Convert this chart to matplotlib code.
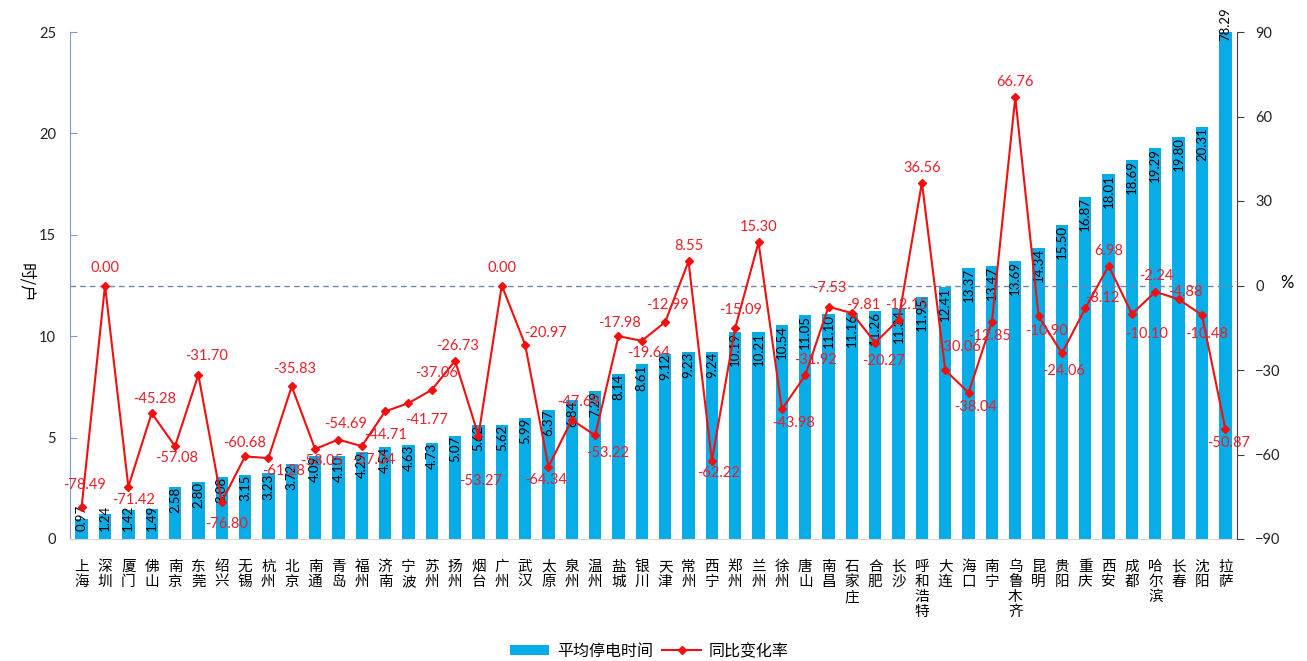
import numpy as np
import matplotlib
matplotlib.use('Agg')
import matplotlib.pyplot as plt
from matplotlib.patches import Patch
from matplotlib.lines import Line2D

plt.rcParams['font.family'] = ['Lato', 'Noto Sans CJK SC', 'DejaVu Sans']

cities = ['上海', '深圳', '厦门', '佛山', '南京', '东莞', '绍兴', '无锡', '杭州', '北京',
          '南通', '青岛', '福州', '济南', '宁波', '苏州', '扬州', '烟台', '广州', '武汉',
          '太原', '泉州', '温州', '盐城', '银川', '天津', '常州', '西宁', '郑州', '兰州',
          '徐州', '唐山', '南昌', '石家庄', '合肥', '长沙', '呼和浩特', '大连', '海口', '南宁',
          '乌鲁木齐', '昆明', '贵阳', '重庆', '西安', '成都', '哈尔滨', '长春', '沈阳', '拉萨']
outage_hours = [0.97, 1.24, 1.42, 1.49, 2.58, 2.80, 3.08, 3.15, 3.23, 3.72,
                4.09, 4.10, 4.29, 4.54, 4.63, 4.73, 5.07, 5.62, 5.62, 5.99,
                6.37, 6.84, 7.29, 8.14, 8.61, 9.12, 9.23, 9.24, 10.19, 10.21,
                10.54, 11.05, 11.10, 11.16, 11.26, 11.34, 11.95, 12.41, 13.37, 13.47,
                13.69, 14.34, 15.50, 16.87, 18.01, 18.69, 19.29, 19.80, 20.31, 78.29]
yoy_change = [-78.49, 0.00, -71.42, -45.28, -57.08, -31.70, -76.80, -60.68, -61.28, -35.83,
              -58.05, -54.69, -57.04, -44.71, -41.77, -37.06, -26.73, -53.27, 0.00, -20.97,
              -64.34, -47.69, -53.22, -17.98, -19.64, -12.99, 8.55, -62.22, -15.09, 15.30,
              -43.98, -31.92, -7.53, -9.81, -20.27, -12.15, 36.56, -30.06, -38.04, -12.85,
              66.76, -10.90, -24.06, -8.12, 6.98, -10.10, -2.24, -4.88, -10.48, -50.87]

# pixel offsets of the red value labels relative to their markers
label_offsets = [(3, 22), (0, 18), (5, -13), (3, 14), (2, -12), (8, 19), (5, -22), (0, 13), (15, -13), (3, 17),
                 (7, -12), (7, 16), (12, -14), (0, -24), (18, -17), (5, 17), (2, 15), (2, -45), (0, 18), (20, 12),
                 (-3, -13), (7, 18), (12, -18), (1, 13), (7, -12), (2, 17), (0, 15), (7, -12), (5, 18), (0, 15),
                 (12, -14), (10, 15), (1, 19), (11, 8), (8, -18), (8, 15), (0, 15), (14, 23), (7, -14), (-2, -14),
                 (0, 15), (8, -15), (2, -18), (17, 10), (0, 15), (15, -20), (1, 16), (7, 7), (5, -19), (3, -14)]

bar_color = '#08ACE6'
line_color = '#F01010'

fig = plt.figure(figsize=(13.07, 6.61), dpi=100)
ax = fig.add_axes([70 / 1307, 1 - 539 / 661, 1167 / 1307, 507 / 661])
ax2 = ax.twinx()

x = np.arange(len(cities))
ax.bar(x, outage_hours, width=0.53, color=bar_color, zorder=2)
ax.set_xlim(-0.5, len(cities) - 0.5)
ax.set_ylim(0, 25)
ax.set_yticks([0, 5, 10, 15, 20, 25])

for xi, h in zip(x, outage_hours):
    if h > 25:
        ax.text(xi, 25.4, f'{h:.2f}', rotation=90, ha='center', va='center',
                fontsize=9.5, color='black', clip_on=False, zorder=3)
    else:
        ax.text(xi, max(h, 1.7), f'{h:.2f}', rotation=90, ha='center', va='top',
                fontsize=9.5, color='black', zorder=3)

ax.set_xticks(x)
ax.set_xticklabels(['\n'.join(c) for c in cities], fontsize=10.5, linespacing=1.1,
                   family=['Noto Sans CJK SC', 'DejaVu Sans'], va='top')
ax.tick_params(axis='x', length=0, pad=15)
ax.tick_params(axis='y', direction='in', length=5, color='#7F9ACB', labelsize=10.5,
               labelcolor='#222222', pad=10)

ax.spines['left'].set_color('#7F9ACB')
ax.spines['top'].set_visible(False)
ax.spines['right'].set_visible(False)
ax.spines['bottom'].set_color('#D9D9D9')
ax.set_ylabel('时/户', rotation=270, fontsize=12, family=['Noto Sans CJK SC', 'DejaVu Sans'],
              labelpad=10)
ax.yaxis.set_label_coords(-0.045, 0.505)

ax2.plot(x, yoy_change, color=line_color, lw=1.5, marker='D', ms=4.5, zorder=4)
ax2.axhline(0, color='#6F88AA', lw=1, ls=(0, (4, 3)), zorder=1)
ax2.set_ylim(-90, 90)
ax2.set_yticks([-90, -60, -30, 0, 30, 60, 90])
ax2.tick_params(axis='y', direction='out', length=5, color='#404040', labelsize=10.5,
                labelcolor='#222222', pad=8)
ax2.spines['right'].set_color('#404040')
ax2.spines['left'].set_visible(False)
ax2.spines['top'].set_visible(False)
ax2.spines['bottom'].set_visible(False)
ax2.set_ylabel('%', rotation=0, fontsize=12, labelpad=14, va='center')
ax2.yaxis.set_label_coords(1.043, 0.505)

for xi, v, (dx, dy) in zip(x, yoy_change, label_offsets):
    ax2.annotate(f'{v:.2f}', (xi, v), xytext=(dx, dy), textcoords='offset pixels',
                 ha='center', va='center', fontsize=10.5, color='#E8202A', zorder=5)

handles = [Patch(facecolor=bar_color, edgecolor='none'),
           Line2D([], [], color=line_color, lw=1.5, marker='D', ms=4.5)]
fig.legend(handles, ['平均停电时间', '同比变化率'], loc='lower center', ncol=2,
           bbox_to_anchor=(0.497, -0.02), frameon=False, handlelength=2.4, handleheight=0.6,
           columnspacing=0.6, handletextpad=0.5,
           prop={'family': ['Noto Sans CJK SC', 'DejaVu Sans'], 'size': 11.5})

fig.savefig('out.png', dpi=100)
